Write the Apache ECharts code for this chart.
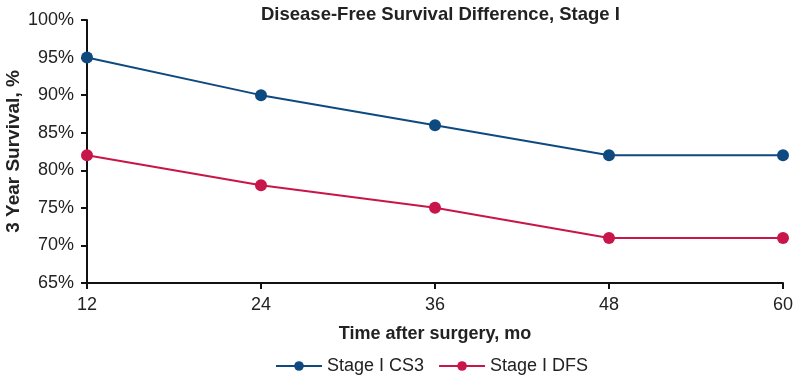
<!DOCTYPE html>
<html>
<head>
<meta charset="utf-8">
<script src="https://cdn.jsdelivr.net/npm/echarts@6/dist/echarts.min.js"></script>
<style>
    html, body { margin: 0; padding: 0; background: #fff; }
    #chart { width: 793px; height: 376px; }
</style>
</head>
<body>
<div id="chart"></div>
<script>
    // months after surgery
    var months = [12, 24, 36, 48, 60];
    var cs3Values = [95, 90, 86, 82, 82];
    var dfsValues = [82, 78, 75, 71, 71];
    var yTicks = [65, 70, 75, 80, 85, 90, 95, 100];

    var font = 'Liberation Sans, Arial, Helvetica, sans-serif';
    var myChart = echarts.init(document.getElementById('chart'));

    function pairs(vals) {
        return months.map(function (m, i) { return [m, vals[i]]; });
    }

    myChart.setOption({
        animation: false,
        textStyle: { fontFamily: font },
        // title sits centred over the plot area, not the whole canvas
        title: {
            text: 'Disease-Free Survival Difference, Stage I',
            left: 256,
            top: 0,
            textStyle: { fontFamily: font, fontSize: 18.5, fontWeight: 'bold', color: '#222' }
        },
        grid: { left: 87, right: 10, top: 20, bottom: 93, outerBoundsMode: 'none' },
        legend: {
            top: 352,
            left: 270,
            itemWidth: 46,
            itemHeight: 12,
            itemGap: 14,
            textStyle: { fontFamily: font, fontSize: 18, color: '#222' },
            data: ['Stage I CS3', 'Stage I DFS']
        },
        xAxis: {
            type: 'value',
            min: 12,
            max: 60,
            interval: 12,
            name: 'Time after surgery, mo',
            nameLocation: 'middle',
            nameGap: 42,
            nameTextStyle: { fontFamily: font, fontSize: 18, fontWeight: 'bold', color: '#222' },
            axisLine: { lineStyle: { color: '#111', width: 2 } },
            axisTick: { length: 6, lineStyle: { color: '#111', width: 2 } },
            axisLabel: { fontSize: 18, color: '#222', margin: 13 },
            splitLine: { show: false }
        },
        yAxis: {
            type: 'value',
            min: yTicks[0],
            max: yTicks[yTicks.length - 1],
            interval: 5,
            name: '3 Year Survival, %',
            nameLocation: 'middle',
            nameGap: 64,
            nameMoveOverlap: false,
            nameTextStyle: { fontFamily: font, fontSize: 19, fontWeight: 'bold', color: '#222' },
            axisLine: { show: true, lineStyle: { color: '#111', width: 2 } },
            axisTick: { show: true, length: 6, lineStyle: { color: '#111', width: 2 } },
            axisLabel: { fontSize: 18, color: '#222', margin: 13, formatter: '{value}%' },
            splitLine: { show: false }
        },
        series: [
            {
                name: 'Stage I CS3',
                type: 'line',
                data: pairs(cs3Values),
                symbol: 'circle',
                symbolSize: 12,
                itemStyle: { color: '#0e4a80' },
                lineStyle: { color: '#0e4a80', width: 2 }
            },
            {
                name: 'Stage I DFS',
                type: 'line',
                data: pairs(dfsValues),
                symbol: 'circle',
                symbolSize: 12,
                itemStyle: { color: '#c8154a' },
                lineStyle: { color: '#c8154a', width: 2 }
            }
        ]
    });
</script>
</body>
</html>
